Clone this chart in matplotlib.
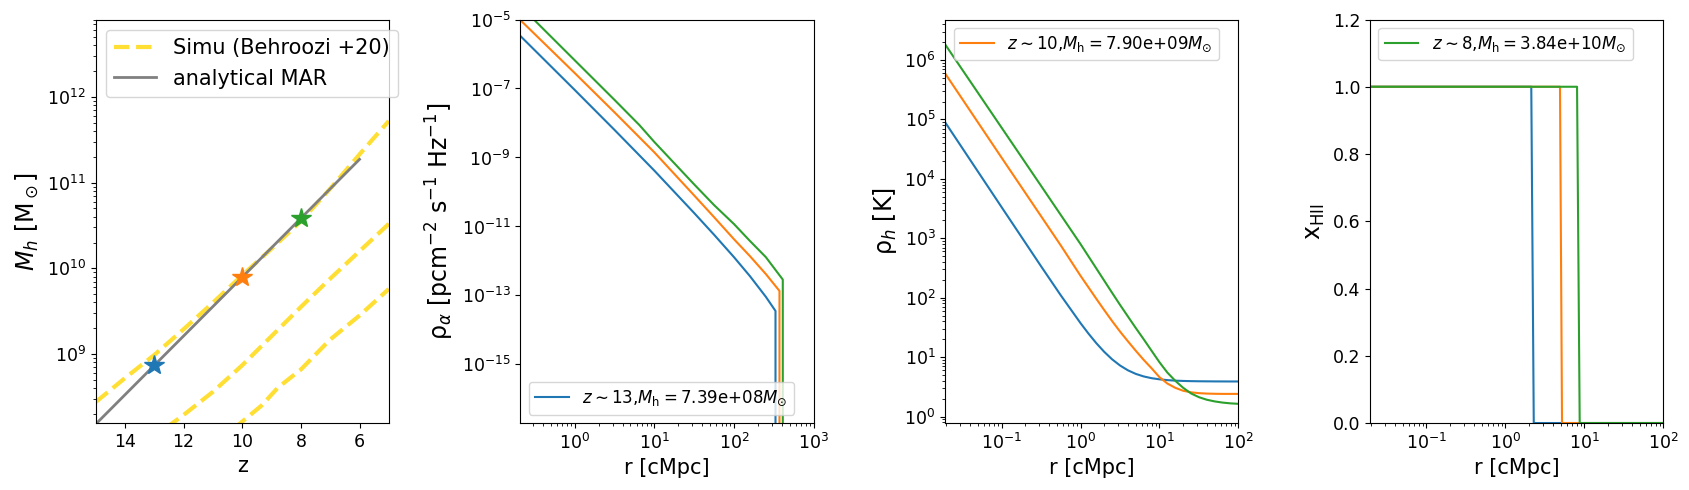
import numpy as np
import matplotlib
matplotlib.use("Agg")
import matplotlib.pyplot as plt

# ---------------- data ----------------
# panel 1 : halo mass history
z_stars = [13, 10, 8]
Mh_stars = [7.39e8, 7.90e9, 3.84e10]
z_mar = [15, 13, 10, 8, 6]
Mh_mar = [1.52e8, 7.39e8, 7.90e9, 3.84e10, 1.87e11]
z_sim_1 = [15, 14, 13, 12, 11, 10, 9, 8, 7, 6, 5]
logM_sim_1 = [8.44, 8.72, 8.99, 9.29, 9.60, 9.92, 10.23, 10.55, 10.93, 11.33, 11.72]
z_sim_2 = [12.6, 12.0, 11.0, 10.0, 9.0, 8.0, 7.0, 6.0, 5.0]
logM_sim_2 = [8.14, 8.29, 8.56, 8.87, 9.21, 9.55, 9.88, 10.20, 10.52]
z_sim_3 = [10.3, 10.08, 9.34, 8.78, 8.0, 7.0, 6.0, 5.0]
logM_sim_3 = [8.13, 8.19, 8.40, 8.61, 8.82, 9.17, 9.45, 9.76]

labels = [r"$z\sim13$,$M_{\rm h}=$7.39e+08$M_{\odot}$",
          r"$z\sim10$,$M_{\rm h}=$7.90e+09$M_{\odot}$",
          r"$z\sim8$,$M_{\rm h}=$3.84e+10$M_{\odot}$"]

# panel 2 : rho_alpha profiles (log10 r [cMpc], log10 rho)
logr_a = [[-0.68, 0.0, 0.5, 1.0, 1.5, 1.75, 2.0, 2.2, 2.4, 2.521, 2.521],
          [-0.68, 0.0, 0.5, 1.0, 1.5, 1.75, 2.0, 2.2, 2.4, 2.571, 2.571],
          [-0.68, -0.504, 0.0, 0.5, 0.8125, 1.0, 1.5, 1.75, 2.0, 2.2, 2.4, 2.6125, 2.6125]]
logrho_a = [[-5.48, -7.04, -8.20, -9.38, -10.61, -11.24, -11.89, -12.44, -13.04, -13.45, -30],
            [-5.02, -6.55, -7.69, -8.85, -10.10, -10.73, -11.37, -11.86, -12.38, -12.87, -30],
            [-4.62, -5.02, -6.18, -7.33, -8.06, -8.55, -9.78, -10.38, -10.93, -11.42, -11.89, -12.54, -30]]

# panel 3 : rho_h profiles (log10 r grid, values in K)
logr_h = [-1.713, -1.0, -0.5, -0.25, 0.0, 0.1, 0.2, 0.3, 0.4, 0.5, 0.6, 0.7, 0.8, 0.9,
          1.0, 1.1, 1.2, 1.3, 1.4, 1.5, 1.6, 1.7, 1.8, 1.9, 2.0]
rho_h = [[8.9e4, 3354, 339, 109.8, 37.4, 25.0, 17.2, 12.3, 9.2, 7.25, 6.01, 5.23, 4.74, 4.43,
          4.24, 4.11, 4.03, 3.98, 3.95, 3.93, 3.92, 3.91, 3.905, 3.90, 3.90],
         [5.9e5, 2.28e4, 2360, 759, 234, 150, 96, 62, 40.5, 27, 18.5, 12.8, 9.0, 6.5,
          4.6, 3.6, 3.05, 2.72, 2.56, 2.48, 2.44, 2.42, 2.41, 2.41, 2.41],
         [1.82e6, 7.29e4, 7640, 2470, 800, 499, 311, 194, 121, 75.9, 48.4, 30.9, 20.0, 12.8,
          8.2, 5.5, 4.0, 3.05, 2.45, 2.12, 1.92, 1.80, 1.72, 1.67, 1.64]]

# panel 4 : ionised fraction
r_x = [[0.0194, 2.13, 2.29, 100],
       [0.0194, 4.92, 5.22, 100],
       [0.0194, 8.09, 8.74, 100]]
x_HII = [[1, 1, 0, 0],
         [1, 1, 0, 0],
         [1, 1, 0, 0]]

colors = ["C0", "C1", "C2"]

# ---------------- figure ----------------
plt.rcParams["xtick.labelsize"] = 12.5
plt.rcParams["ytick.labelsize"] = 12.5
fig, axes = plt.subplots(1, 4, figsize=(16.9, 4.9), dpi=100)
fig.subplots_adjust(left=0.0566, right=0.9842, bottom=0.1367, top=0.9602, wspace=0.449)

ax = axes[0]
ysim = [logM_sim_1, logM_sim_2, logM_sim_3]
zsim = [z_sim_1, z_sim_2, z_sim_3]
for i in range(3):
    ax.plot(zsim[i], 10 ** np.array(ysim[i]), ls="--", lw=3, color="gold", alpha=0.8,
            label="Simu (Behroozi +20)" if i == 0 else None)
ax.plot(z_mar, Mh_mar, color="gray", lw=2, label="analytical MAR")
for i in range(3):
    ax.plot(z_stars[i], Mh_stars[i], marker="*", ms=15, color=colors[i], ls="none")
ax.set_yscale("log")
ax.set_xlim(15, 5)
ax.set_ylim(1.57e8, 8e12)
ax.set_xticks([14, 12, 10, 8, 6])
ax.set_xlabel("z", fontsize=15)
ax.set_ylabel(r"$M_h$ [M$_\odot$]", fontsize=17)
ax.legend(loc="upper left", fontsize=15)

ax = axes[1]
lines = []
for i in range(3):
    l, = ax.plot(10 ** np.array(logr_a[i]), 10 ** np.array(logrho_a[i]), color=colors[i], lw=1.5)
    lines.append(l)
ax.set_xscale("log")
ax.set_yscale("log")
ax.set_xlim(0.209, 1000)
ax.set_ylim(2e-17, 1e-5)
ax.set_xlabel("r [cMpc]", fontsize=15)
ax.set_ylabel(r"ρ$_\alpha$ [pcm$^{-2}$ s$^{-1}$ Hz$^{-1}$]", fontsize=17)
ax.legend([lines[0]], [labels[0]], loc="lower left", fontsize=12)

ax = axes[2]
lines = []
for i in range(3):
    l, = ax.plot(10 ** np.array(logr_h), rho_h[i], color=colors[i], lw=1.5)
    lines.append(l)
ax.set_xscale("log")
ax.set_yscale("log")
ax.set_xlim(0.0194, 100)
ax.set_ylim(0.78, 4.8e6)
ax.set_xlabel("r [cMpc]", fontsize=15)
ax.set_ylabel(r"ρ$_h$ [K]", fontsize=17)
ax.legend([lines[1]], [labels[1]], loc="upper left", fontsize=12)

ax = axes[3]
lines = []
for i in range(3):
    l, = ax.plot(r_x[i], x_HII[i], color=colors[i], lw=1.5)
    lines.append(l)
ax.set_xscale("log")
ax.set_xlim(0.0194, 100)
ax.set_ylim(0, 1.2)
ax.set_xlabel("r [cMpc]", fontsize=15)
ax.set_ylabel(r"x$_{\rm HII}$", fontsize=17)
ax.legend([lines[2]], [labels[2]], loc="upper left", fontsize=12)

fig.savefig("out.png", dpi=100)
